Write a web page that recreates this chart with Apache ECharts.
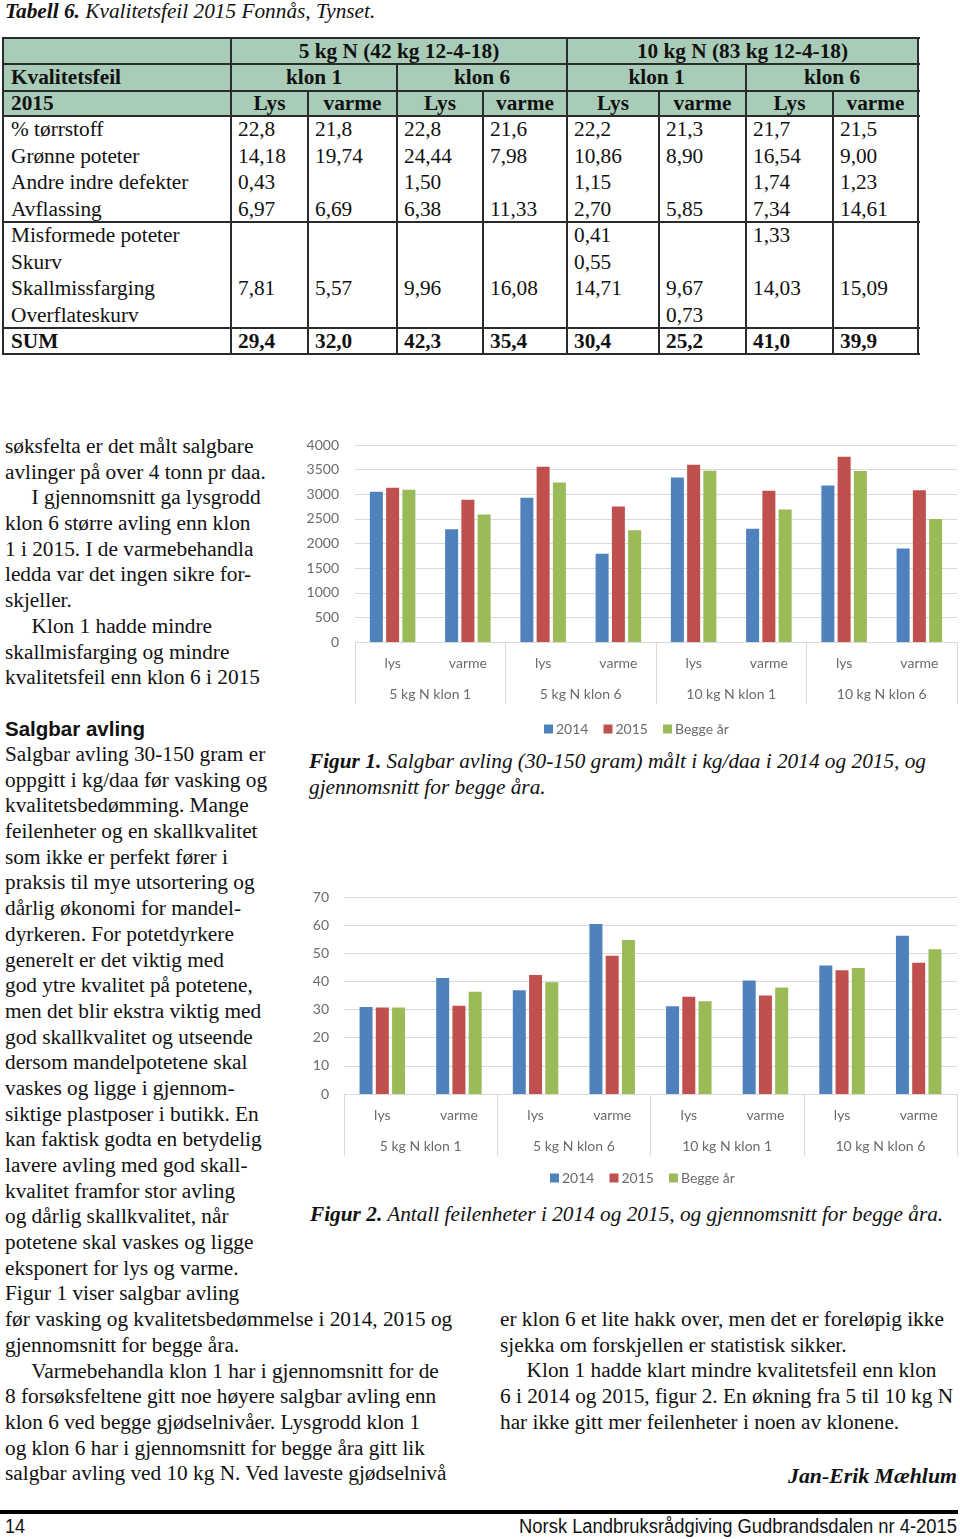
<!DOCTYPE html>
<html><head><meta charset="utf-8">
<script src="https://cdn.jsdelivr.net/npm/echarts@6/dist/echarts.min.js"></script>
<style>
html,body{margin:0;padding:0;background:#fff;}
body{width:960px;height:1539px;position:relative;overflow:hidden;font-family:"Liberation Serif","Times New Roman",serif;color:#111;}
.abs{position:absolute;}
.txt{font-size:21.3px;line-height:25.68px;white-space:pre;}
.cell{position:absolute;font-size:21.3px;white-space:nowrap;line-height:26px;height:26px;}
.hl{position:absolute;background:#2b2b2b;}
</style></head>
<body>
<div class="abs" style="left:5px;top:-1px;font-size:21.3px;font-style:italic;line-height:24px;"><b>Tabell 6.</b> Kvalitetsfeil 2015 Fonnås, Tynset.</div>
<div class="abs" id="tbl" style="left:0;top:0;width:960px;height:360px;"></div>

<div class="abs txt" id="col1a" style="left:5px;top:434px;"></div>
<div class="abs" style="left:5px;top:716px;font-family:'Liberation Sans',Arial,sans-serif;font-weight:bold;font-size:20.5px;line-height:26px;">Salgbar avling</div>
<div class="abs txt" id="col1b" style="left:5px;top:742px;"></div>
<div class="abs txt" id="col2" style="left:500px;top:1307px;"></div>
<div class="abs" style="right:3px;top:1463px;font-size:21.8px;font-weight:bold;font-style:italic;line-height:26px;">Jan-Erik Mæhlum</div>

<div class="abs txt" style="left:309px;top:749px;font-style:italic;"><b>Figur 1.</b> Salgbar avling (30-150 gram) målt i kg/daa i 2014 og 2015, og
gjennomsnitt for begge åra.</div>
<div class="abs txt" style="left:310px;top:1202px;font-style:italic;"><b>Figur 2.</b> Antall feilenheter i 2014 og 2015, og gjennomsnitt for begge åra.</div>

<div class="abs" id="c1" style="left:300px;top:430px;width:660px;height:315px;"></div>
<div class="abs" id="c2" style="left:300px;top:880px;width:660px;height:315px;"></div>

<div class="abs" style="left:0;top:1510px;width:958px;height:4px;background:#000;"></div>
<div class="abs" style="left:5px;top:1515px;font-family:'Liberation Sans',Arial,sans-serif;font-size:20px;line-height:22px;transform:scaleX(0.9);transform-origin:left top;">14</div>
<div class="abs" style="right:3px;top:1515px;font-family:'Liberation Sans',Arial,sans-serif;font-size:20px;line-height:22px;transform:scaleX(0.918);transform-origin:right top;">Norsk Landbruksrådgiving Gudbrandsdalen nr 4-2015</div>

<script>
// ---------- Table data ----------
var tableRowLabels = ['% tørrstoff','Grønne poteter','Andre indre defekter','Avflassing','Misformede poteter','Skurv','Skallmissfarging','Overflateskurv'];
var rowTorrstoff   = ['22,8','21,8','22,8','21,6','22,2','21,3','21,7','21,5'];
var rowGronne      = ['14,18','19,74','24,44','7,98','10,86','8,90','16,54','9,00'];
var rowAndre       = ['0,43','','1,50','','1,15','','1,74','1,23'];
var rowAvflassing  = ['6,97','6,69','6,38','11,33','2,70','5,85','7,34','14,61'];
var rowMisformede  = ['','','','','0,41','','1,33',''];
var rowSkurv       = ['','','','','0,55','','',''];
var rowSkallmiss   = ['7,81','5,57','9,96','16,08','14,71','9,67','14,03','15,09'];
var rowOverflate   = ['','','','','','0,73','',''];
var rowSum         = ['29,4','32,0','42,3','35,4','30,4','25,2','41,0','39,9'];
var headerLevel1 = ['5 kg N (42 kg 12-4-18)','10 kg N (83 kg 12-4-18)'];
var headerLevel2 = ['klon 1','klon 6','klon 1','klon 6'];
var headerLevel3 = ['Lys','varme','Lys','varme','Lys','varme','Lys','varme'];

// ---------- Chart data ----------
var subCategories = ['lys','varme','lys','varme','lys','varme','lys','varme'];
var groupCategories = ['5 kg N klon 1','5 kg N klon 6','10 kg N klon 1','10 kg N klon 6'];
var seriesNames = ['2014','2015','Begge år'];
var yield2014 = [3050, 2290, 2930, 1790, 3340, 2300, 3180, 1900];
var yield2015 = [3130, 2890, 3560, 2750, 3600, 3070, 3760, 3080];
var yieldBoth = [3090, 2590, 3240, 2270, 3475, 2690, 3470, 2500];
var defects2014 = [30.9, 41.2, 36.9, 60.4, 31.2, 40.3, 45.7, 56.2];
var defects2015 = [30.7, 31.4, 42.3, 49.1, 34.6, 35.0, 44.0, 46.6];
var defectsBoth = [30.7, 36.3, 39.7, 54.7, 33.0, 37.8, 44.8, 51.4];

// ---------- Text ----------
var textCol1a = ['søksfelta er det målt salgbare','avlinger på over 4 tonn pr daa.','     I gjennomsnitt ga lysgrodd','klon 6 større avling enn klon','1 i 2015. I de varmebehandla','ledda var det ingen sikre for-','skjeller.','     Klon 1 hadde mindre','skallmisfarging og mindre','kvalitetsfeil enn klon 6 i 2015'];
var textCol1b = ['Salgbar avling 30-150 gram er','oppgitt i kg/daa før vasking og','kvalitetsbedømming. Mange','feilenheter og en skallkvalitet','som ikke er perfekt fører i','praksis til mye utsortering og','dårlig økonomi for mandel-','dyrkeren. For potetdyrkere','generelt er det viktig med','god ytre kvalitet på potetene,','men det blir ekstra viktig med','god skallkvalitet og utseende','dersom mandelpotetene skal','vaskes og ligge i gjennom-','siktige plastposer i butikk. En','kan faktisk godta en betydelig','lavere avling med god skall-','kvalitet framfor stor avling','og dårlig skallkvalitet, når','potetene skal vaskes og ligge','eksponert for lys og varme.','Figur 1 viser salgbar avling','før vasking og kvalitetsbedømmelse i 2014, 2015 og','gjennomsnitt for begge åra.','     Varmebehandla klon 1 har i gjennomsnitt for de','8 forsøksfeltene gitt noe høyere salgbar avling enn','klon 6 ved begge gjødselnivåer. Lysgrodd klon 1','og klon 6 har i gjennomsnitt for begge åra gitt lik','salgbar avling ved 10 kg N. Ved laveste gjødselnivå'];
var textCol2 = ['er klon 6 et lite hakk over, men det er foreløpig ikke','sjekka om forskjellen er statistisk sikker.','     Klon 1 hadde klart mindre kvalitetsfeil enn klon','6 i 2014 og 2015, figur 2. En økning fra 5 til 10 kg N','har ikke gitt mer feilenheter i noen av klonene.'];

document.getElementById('col1a').textContent = textCol1a.join('\n');
document.getElementById('col1b').textContent = textCol1b.join('\n');
document.getElementById('col2').textContent = textCol2.join('\n');

// ---------- Build table (absolute layout) ----------
(function(){
  var el = document.getElementById('tbl');
  var h = '';
  var colX = [3,231,308,397,483,567,659,746,833,918];
  var top = 38, r1 = 64, r2 = 91, r3 = 116, rowH = 26.5, sec = 222, sumTop = 328, bottom = 354;
  function line(x,y,w,hh){ h += '<div class="hl" style="left:'+x+'px;top:'+y+'px;width:'+w+'px;height:'+hh+'px"></div>'; }
  function cell(x,y,w,text,style){ h += '<div class="cell" style="left:'+x+'px;top:'+y+'px;'+(w?'width:'+w+'px;text-align:center;':'')+(style||'')+'">'+text+'</div>'; }
  h += '<div class="abs" style="left:3px;top:38px;width:915px;height:78px;background:#a9ccb8"></div>';
  var hb = 'font-weight:bold;';
  cell(colX[1], top, colX[5]-colX[1], headerLevel1[0], hb);
  cell(colX[5], top, colX[9]-colX[5], headerLevel1[1], hb);
  cell(11, r1, 0, 'Kvalitetsfeil', hb);
  for (var k=0;k<4;k++) cell(colX[1+2*k], r1, colX[3+2*k]-colX[1+2*k], headerLevel2[k], hb);
  cell(11, r2-1, 0, '2015', hb);
  for (var k=0;k<8;k++) cell(colX[1+k], r2-1, colX[2+k]-colX[1+k], headerLevel3[k], hb);
  var rows = [rowTorrstoff,rowGronne,rowAndre,rowAvflassing,rowMisformede,rowSkurv,rowSkallmiss,rowOverflate];
  rows.forEach(function(r,i){
    var y = r3 + i*rowH;
    cell(11, y, 0, tableRowLabels[i]);
    r.forEach(function(v,j){ if (v) cell(colX[1+j]+7, y, 0, v); });
  });
  cell(11, sumTop, 0, 'SUM', hb);
  rowSum.forEach(function(v,j){ cell(colX[1+j]+7, sumTop, 0, v, hb); });
  [top, r1, r2, r3, sec, sumTop, bottom].forEach(function(y){ line(3, y-1, 917, 2); });
  line(2, top-1, 2, bottom-top+2); line(917, top-1, 2, bottom-top+2);
  line(colX[1]-1, top-1, 2, bottom-top+2);
  line(colX[5]-1, top-1, 2, bottom-top+2);
  [colX[3], colX[7]].forEach(function(x){ line(x-1, r1-1, 2, bottom-r1+2); });
  [colX[2], colX[4], colX[6], colX[8]].forEach(function(x){ line(x-1, r2-1, 2, bottom-r2+2); });
  el.innerHTML = h;
})();

// ---------- Charts ----------
var colors = ['#4f81bd','#c0504d','#9bbb59'];
var labelColor = '#6b6b6b';
var fontFam = 'Lato, "Open Sans", sans-serif';

function makeChart(id, gridLeft, gridTop, yMax, yInterval, labelMargin, legendLeft, legendTop, data) {
  var chart = echarts.init(document.getElementById(id), null, {renderer:'canvas'});
  chart.setOption({
    animation:false,
    color: colors,
    textStyle:{fontFamily:fontFam},
    grid:{left:gridLeft, top:gridTop, right:3, height:197, containLabel:false},
    legend:{
      data: seriesNames, left: legendLeft, top: legendTop, icon:'rect',
      itemWidth:9, itemHeight:9, itemGap:15,
      textStyle:{color:labelColor, fontSize:14, fontFamily:fontFam, padding:[0,0,0,-2]}
    },
    xAxis:[
      {type:'category', data: subCategories, position:'bottom',
       axisLine:{show:true, lineStyle:{color:'#d9d9d9', width:1}},
       axisTick:{show:false},
       axisLabel:{color:labelColor, fontSize:14, margin:14, fontFamily:fontFam}},
      {type:'category', data: groupCategories, position:'bottom',
       axisLine:{show:false},
       axisTick:{show:true, length:62, lineStyle:{color:'#d9d9d9', width:1}},
       axisLabel:{color:labelColor, fontSize:14, margin:45, fontFamily:fontFam}}
    ],
    yAxis:{type:'value', min:0, max:yMax, interval:yInterval,
      axisLine:{show:false}, axisTick:{show:false},
      splitLine:{lineStyle:{color:'#d9d9d9', width:1}},
      axisLabel:{color:labelColor, fontSize:14, margin:labelMargin, fontFamily:fontFam,
        formatter:function(v){ return String(v); }}},
    series: data.map(function(d,i){
      return {name: seriesNames[i], type:'bar', xAxisIndex:0, data:d, barWidth:13, barGap:'25%'};
    })
  });
}
makeChart('c1', 55, 15, 4000, 500, 16, 239, 287, [yield2014, yield2015, yieldBoth]);
makeChart('c2', 44, 17, 70, 10, 15, 245, 286, [defects2014, defects2015, defectsBoth]);
</script>
</body></html>
